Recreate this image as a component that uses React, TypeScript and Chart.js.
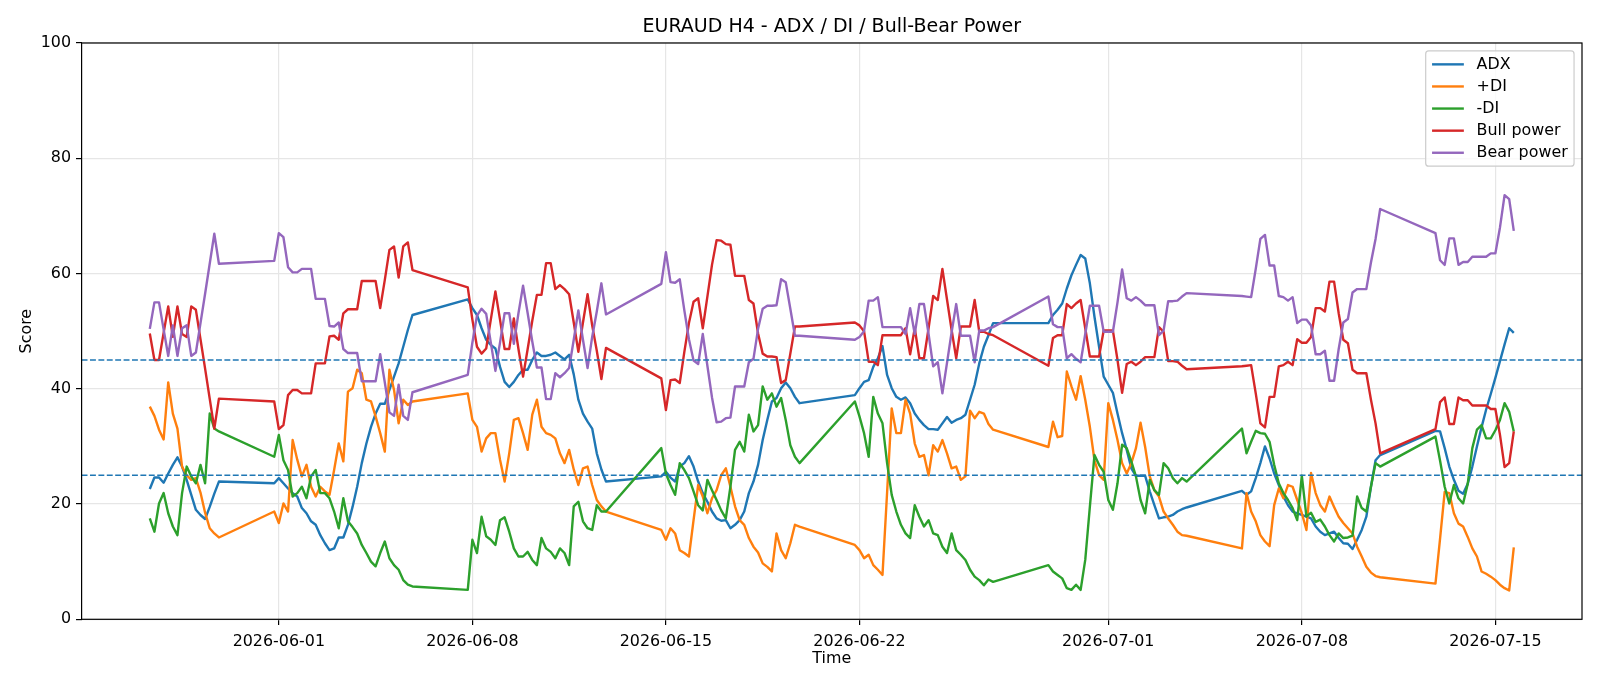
import React, { useEffect, useRef } from "react";
import { Chart, registerables } from "chart.js";

Chart.register(...registerables);

// H4 sessions: first bar (UTC) and bar count, weekends excluded
const sessionStarts = [
  "2026-05-27T08:00:00Z",
  "2026-05-31T20:00:00Z",
  "2026-06-07T20:00:00Z",
  "2026-06-14T20:00:00Z",
  "2026-06-21T20:00:00Z",
  "2026-06-28T20:00:00Z",
  "2026-07-05T20:00:00Z",
  "2026-07-12T20:00:00Z",
];
const sessionBars = [16, 31, 31, 31, 31, 31, 31, 18];

const tickDates = ["2026-06-01", "2026-06-08", "2026-06-15", "2026-06-22", "2026-07-01", "2026-07-08", "2026-07-15"];
const scoreTicks = [0, 20, 40, 60, 80, 100];
const levels = [45, 25];

const adx = [
  22.6, 24.6, 24.6, 23.7, 25.3, 26.8, 28.1, 26.5, 24.2, 21.6, 19.0, 18.1, 17.4, 19.5, 21.8, 23.9,
  23.6, 24.5, 23.6, 22.7, 21.9, 21.3, 19.3, 18.4, 17.0, 16.4, 14.6, 13.2, 12.0, 12.3, 14.2, 14.2, 16.4, 19.5, 23.0, 27.1, 30.5, 33.4, 35.7, 37.4, 37.4, 39.8, 42.1, 44.4, 47.3, 50.2, 52.8,
  55.5, 54.0, 52.8, 50.5, 48.5, 47.6, 47.0, 43.8, 41.2, 40.3, 41.2, 42.4, 43.3, 43.3, 45.0, 46.3, 45.7, 45.7, 45.9, 46.3, 45.7, 45.1, 45.9, 42.5, 38.1, 35.7, 34.3, 33.1, 28.8, 26.0, 23.9,
  24.8, 25.6, 24.6, 23.9, 26.5, 27.1, 28.3, 26.5, 23.9, 21.9, 20.4, 18.7, 17.5, 17.1, 17.2, 15.8, 16.4, 17.2, 18.7, 21.9, 23.9, 26.8, 31.1, 34.6, 37.8, 38.4, 40.1, 41.1, 40.1, 38.6, 37.5,
  38.9, 40.1, 41.2, 41.5, 43.8, 45.3, 47.4, 42.4, 40.1, 38.6, 38.1, 38.5, 37.5, 35.7, 34.6, 33.7, 33.0, 33.0, 32.9, 34.0, 35.1, 34.1, 34.6, 34.9, 35.5, 38.1, 40.7, 44.4, 47.3, 49.3, 51.4,
  51.4, 52.8, 53.7, 54.8, 57.4, 59.7, 61.5, 63.2, 62.6, 58.3, 52.5, 47.3, 42.1, 40.7, 39.3, 35.7, 32.3, 29.4, 26.2, 24.9, 24.9, 24.9, 22.2, 19.8, 17.5, 17.7, 17.8, 18.1, 18.7, 19.1, 19.4,
  22.3, 21.6, 22.2, 24.5, 27.1, 30.0, 27.9, 25.3, 23.3, 21.3, 19.8, 18.7, 18.4, 18.1, 17.8, 17.5, 16.1, 15.2, 14.6, 14.9, 15.2, 14.1, 13.2, 13.1, 12.2, 13.8, 15.5, 17.8, 23.0, 27.6, 28.5,
  32.7, 32.6, 29.7, 26.5, 24.2, 22.3, 21.8, 23.5, 26.5, 30.0, 33.3, 36.4, 39.1, 41.9, 44.8, 47.7, 50.5, 49.7,
];

const plusDi = [
  36.9, 35.3, 32.9, 31.2, 41.1, 35.7, 33.1, 26.5, 25.0, 24.2, 24.5, 22.0, 18.5, 15.8, 14.9, 14.2,
  18.7, 16.7, 20.1, 18.7, 31.1, 27.7, 24.8, 26.8, 23.0, 21.3, 23.0, 22.2, 21.6, 25.9, 30.5, 27.4, 39.5, 40.1, 43.3, 42.7, 38.1, 37.8, 35.2, 32.3, 29.1, 43.3, 39.8, 34.0, 38.1, 37.2, 37.8,
  39.2, 34.6, 33.4, 29.1, 31.4, 32.3, 32.3, 27.7, 23.9, 28.8, 34.6, 34.9, 32.3, 29.4, 35.5, 38.1, 33.4, 32.3, 32.0, 31.4, 28.8, 27.1, 29.4, 26.0, 23.3, 26.2, 26.5, 23.3, 20.7, 19.6, 18.7,
  15.5, 13.8, 15.8, 14.9, 12.0, 11.5, 10.9, 17.2, 23.3, 21.3, 18.4, 21.0, 22.4, 25.0, 26.2, 23.0, 19.6, 17.2, 16.4, 14.1, 12.6, 11.6, 9.7, 9.1, 8.3, 14.9, 12.0, 10.6, 13.2, 16.4, 16.1,
  12.9, 12.0, 10.6, 11.2, 9.4, 8.6, 7.7, 22.0, 36.6, 32.3, 32.3, 38.1, 35.7, 30.5, 28.2, 28.5, 25.0, 30.2, 29.1, 31.1, 28.8, 26.2, 26.5, 24.2, 24.8, 36.2, 34.9, 36.0, 35.7, 33.9, 32.9,
  29.9, 34.3, 31.6, 31.8, 43.0, 40.4, 38.1, 42.2, 38.1, 33.4, 27.6, 25.0, 24.2, 37.5, 34.6, 31.1, 27.1, 25.3, 27.1, 29.7, 34.1, 29.9, 24.8, 22.4, 21.3, 18.7, 17.5, 16.4, 15.2, 14.6, 14.5,
  12.3, 21.9, 18.7, 17.0, 14.6, 13.5, 12.7, 19.8, 22.7, 21.0, 23.3, 23.0, 20.7, 18.4, 15.5, 25.4, 21.9, 19.8, 18.7, 21.3, 19.5, 17.8, 16.7, 15.8, 14.9, 12.6, 10.9, 9.1, 8.1, 7.5, 7.3,
  6.2, 14.0, 22.1, 21.9, 18.4, 16.6, 16.1, 14.3, 12.3, 10.9, 8.3, 7.9, 7.4, 6.8, 6.0, 5.4, 5.0, 12.5,
];

const minusDi = [
  17.5, 15.2, 20.1, 21.9, 18.4, 16.1, 14.6, 21.9, 26.5, 24.8, 23.6, 26.8, 23.6, 35.7, 33.1, 32.6,
  28.2, 32.0, 27.6, 25.9, 21.3, 21.9, 23.0, 21.0, 24.8, 25.9, 21.9, 21.9, 21.0, 18.7, 15.8, 21.0, 17.0, 16.0, 14.9, 12.9, 11.5, 10.0, 9.2, 11.5, 13.5, 10.6, 9.4, 8.6, 6.8, 6.0, 5.7,
  5.1, 13.8, 11.5, 17.8, 14.4, 13.8, 12.9, 17.2, 17.7, 15.2, 12.3, 10.9, 10.9, 11.7, 10.3, 9.4, 14.1, 12.3, 11.7, 10.6, 12.3, 11.5, 9.4, 19.6, 20.4, 17.0, 15.8, 15.5, 19.8, 18.7, 18.7,
  29.7, 25.3, 23.3, 21.6, 27.1, 25.9, 24.5, 22.2, 19.8, 18.9, 24.2, 22.4, 20.7, 18.9, 17.5, 23.0, 29.4, 30.8, 29.1, 35.5, 32.6, 33.7, 40.4, 38.1, 39.2, 36.9, 38.4, 34.6, 30.2, 28.2, 27.1,
  37.8, 35.2, 32.3, 28.2, 38.6, 35.7, 34.0, 27.1, 21.6, 18.7, 16.4, 14.9, 14.1, 19.8, 17.8, 16.1, 17.2, 14.9, 14.6, 12.6, 11.5, 14.9, 12.0, 11.2, 10.3, 8.6, 7.4, 6.8, 5.9, 6.9, 6.5,
  9.4, 8.3, 7.7, 7.1, 5.4, 5.1, 6.0, 5.1, 10.3, 19.5, 28.5, 26.8, 25.6, 20.7, 19.0, 23.6, 30.3, 29.7, 27.4, 24.8, 20.7, 18.4, 24.2, 22.4, 21.6, 27.1, 26.2, 24.5, 23.6, 24.5, 23.9,
  33.1, 28.8, 30.8, 32.7, 32.3, 32.2, 30.8, 26.8, 23.6, 21.9, 20.7, 19.3, 17.2, 24.9, 17.8, 18.5, 16.9, 17.3, 16.1, 14.6, 13.5, 14.9, 14.1, 14.2, 14.5, 21.3, 19.3, 18.7, 23.0, 27.1, 26.5,
  31.7, 27.5, 23.0, 20.1, 23.3, 21.0, 20.1, 23.5, 29.7, 32.9, 33.7, 31.4, 31.4, 32.8, 34.6, 37.5, 36.0, 32.6,
];

const bullPower = [
  49.6, 45.0, 45.0, 49.7, 54.3, 49.0, 54.3, 49.5, 49.0, 54.3, 53.7, 48.6, 43.5, 38.3, 33.1, 38.3,
  37.8, 33.0, 33.7, 38.9, 39.8, 39.8, 39.2, 39.2, 39.2, 44.4, 44.4, 44.4, 49.1, 49.2, 48.5, 53.1, 53.8, 53.8, 53.8, 58.7, 58.7, 58.7, 58.7, 54.0, 58.9, 64.1, 64.7, 59.3, 64.7, 65.4, 60.6,
  57.6, 52.0, 47.3, 46.1, 47.0, 52.0, 56.9, 52.0, 46.9, 46.9, 52.2, 46.9, 42.1, 46.9, 51.8, 56.3, 56.3, 61.8, 61.8, 57.3, 58.0, 57.3, 56.4, 51.5, 46.4, 51.5, 56.4, 51.0, 46.6, 41.7, 47.1,
  41.8, 36.3, 41.5, 41.6, 41.0, 46.4, 51.4, 55.1, 55.7, 50.5, 56.0, 61.5, 65.8, 65.7, 65.1, 65.0, 59.6, 59.6, 59.6, 55.4, 54.8, 49.6, 46.1, 45.6, 45.6, 45.5, 41.0, 41.5, 46.1, 50.8, 50.8,
  51.5, 51.0, 50.0, 44.7, 44.7, 44.1, 49.3, 49.3, 49.3, 49.3, 49.3, 50.5, 46.0, 50.5, 45.3, 45.3, 50.5, 56.1, 55.4, 60.8, 55.5, 50.2, 45.3, 50.8, 50.8, 50.8, 55.4, 49.9, 49.9, 49.5, 49.3,
  44.0, 48.8, 49.3, 49.3, 54.7, 54.0, 54.8, 55.4, 50.5, 45.6, 45.6, 45.6, 50.1, 50.1, 50.1, 45.0, 39.3, 44.3, 44.7, 44.1, 44.7, 45.5, 45.5, 45.5, 50.7, 49.9, 44.8, 44.8, 44.7, 44.0, 43.4,
  43.9, 44.0, 44.1, 39.2, 34.0, 33.3, 38.6, 38.6, 43.9, 44.1, 44.7, 44.1, 48.6, 48.0, 48.0, 49.0, 54.0, 54.0, 53.4, 58.6, 58.6, 53.1, 48.5, 47.9, 43.3, 42.7, 42.7, 42.7, 38.1, 34.0, 28.8,
  33.0, 37.7, 38.5, 33.9, 33.9, 38.5, 38.0, 38.0, 37.1, 37.1, 37.1, 37.1, 36.5, 36.5, 32.0, 26.4, 27.1, 32.6,
];

const bearPower = [
  50.4, 55.0, 55.0, 50.3, 45.7, 51.0, 45.7, 50.5, 51.0, 45.7, 46.3, 51.4, 56.5, 61.7, 66.9, 61.7,
  62.2, 67.0, 66.3, 61.1, 60.2, 60.2, 60.8, 60.8, 60.8, 55.6, 55.6, 55.6, 50.9, 50.8, 51.5, 46.9, 46.2, 46.2, 46.2, 41.3, 41.3, 41.3, 41.3, 46.0, 41.1, 35.9, 35.3, 40.7, 35.3, 34.6, 39.4,
  42.4, 48.0, 52.7, 53.9, 53.0, 48.0, 43.1, 48.0, 53.1, 53.1, 47.8, 53.1, 57.9, 53.1, 48.2, 43.7, 43.7, 38.2, 38.2, 42.7, 42.0, 42.7, 43.6, 48.5, 53.6, 48.5, 43.6, 49.0, 53.4, 58.3, 52.9,
  58.2, 63.7, 58.5, 58.4, 59.0, 53.6, 48.6, 44.9, 44.3, 49.5, 44.0, 38.5, 34.2, 34.3, 34.9, 35.0, 40.4, 40.4, 40.4, 44.6, 45.2, 50.4, 53.9, 54.4, 54.4, 54.5, 59.0, 58.5, 53.9, 49.2, 49.2,
  48.5, 49.0, 50.0, 55.3, 55.3, 55.9, 50.7, 50.7, 50.7, 50.7, 50.7, 49.5, 54.0, 49.5, 54.7, 54.7, 49.5, 43.9, 44.6, 39.2, 44.5, 49.8, 54.7, 49.2, 49.2, 49.2, 44.6, 50.1, 50.1, 50.5, 50.7,
  56.0, 51.2, 50.7, 50.7, 45.3, 46.0, 45.2, 44.6, 49.5, 54.4, 54.4, 54.4, 49.9, 49.9, 49.9, 55.0, 60.7, 55.7, 55.3, 55.9, 55.3, 54.5, 54.5, 54.5, 49.3, 50.1, 55.2, 55.2, 55.3, 56.0, 56.6,
  56.1, 56.0, 55.9, 60.8, 66.0, 66.7, 61.4, 61.4, 56.1, 55.9, 55.3, 55.9, 51.4, 52.0, 52.0, 51.0, 46.0, 46.0, 46.6, 41.4, 41.4, 46.9, 51.5, 52.1, 56.7, 57.3, 57.3, 57.3, 61.9, 66.0, 71.2,
  67.0, 62.3, 61.5, 66.1, 66.1, 61.5, 62.0, 62.0, 62.9, 62.9, 62.9, 62.9, 63.5, 63.5, 68.0, 73.6, 72.9, 67.4,
];

const DAY_MS = 86400000;
const BAR_DAYS = 4 / 24;
const FONT = "'DejaVu Sans', sans-serif";

// bar times in days since epoch (UTC)
function barTimes(): number[] {
  const out: number[] = [];
  sessionStarts.forEach((start, s) => {
    const t0 = Date.parse(start) / DAY_MS;
    for (let i = 0; i < sessionBars[s]; i++) out.push(t0 + i * BAR_DAYS);
  });
  return out;
}

const dayLabel = (v: number) => new Date(Math.round(v * DAY_MS)).toISOString().slice(0, 10);

// horizontal threshold lines at 25 and 45
const levelLines = {
  id: "levelLines",
  afterDatasetsDraw(chart: any) {
    const { ctx, chartArea: a, scales } = chart;
    ctx.save();
    ctx.beginPath();
    ctx.rect(a.left, a.top, a.right - a.left, a.bottom - a.top);
    ctx.clip();
    ctx.strokeStyle = "#1f77b4";
    ctx.lineWidth = 1.4;
    ctx.setLineDash([5.9, 2.5]);
    for (const v of levels) {
      const py = scales.y.getPixelForValue(v);
      ctx.beginPath();
      ctx.moveTo(a.left, py);
      ctx.lineTo(a.right, py);
      ctx.stroke();
    }
    ctx.restore();
  },
};

// box around the plotting area
const frame = {
  id: "frame",
  afterDatasetsDraw(chart: any) {
    const { ctx, chartArea: a } = chart;
    ctx.save();
    ctx.strokeStyle = "#000";
    ctx.lineWidth = 1.2;
    ctx.strokeRect(a.left, a.top, a.right - a.left, a.bottom - a.top);
    ctx.restore();
  },
};

// legend box in the upper right corner of the plot
const cornerLegend = {
  id: "cornerLegend",
  afterDraw(chart: any) {
    const { ctx, chartArea: a } = chart;
    const fs = 15.9;
    const items = chart.data.datasets;
    ctx.save();
    ctx.font = `${fs}px ${FONT}`;
    const textW = Math.max(...items.map((d: any) => ctx.measureText(d.label).width));
    const pad = 0.4 * fs;
    const handle = 2 * fs;
    const gap = 0.8 * fs;
    const rowH = 22.1;
    const w = pad + handle + gap + textW + pad;
    const h = 2 * pad + items.length * rowH - 8;
    const right = a.right - 0.5 * fs;
    const top = a.top + 0.5 * fs;
    const left = right - w;
    ctx.beginPath();
    ctx.roundRect(left, top, w, h, 3);
    ctx.fillStyle = "rgba(255,255,255,0.8)";
    ctx.fill();
    ctx.strokeStyle = "#cccccc";
    ctx.lineWidth = 1.2;
    ctx.stroke();
    const firstRow = top + (h - (items.length - 1) * rowH) / 2;
    items.forEach((d: any, i: number) => {
      const cy = firstRow + i * rowH;
      ctx.beginPath();
      ctx.strokeStyle = d.borderColor;
      ctx.lineWidth = 2.4;
      ctx.moveTo(left + pad, cy);
      ctx.lineTo(left + pad + handle, cy);
      ctx.stroke();
      ctx.fillStyle = "#000";
      ctx.textBaseline = "middle";
      ctx.textAlign = "left";
      ctx.fillText(d.label, left + pad + handle + gap, cy + 0.5);
    });
    ctx.restore();
  },
};

export default function App() {
  const ref = useRef<HTMLCanvasElement>(null);

  useEffect(() => {
    const canvas = ref.current;
    if (!canvas) return;
    Chart.defaults.font.family = FONT;
    Chart.defaults.color = "#000";

    const times = barTimes();
    const series = [
      { label: "ADX", values: adx, color: "#1f77b4" },
      { label: "+DI", values: plusDi, color: "#ff7f0e" },
      { label: "-DI", values: minusDi, color: "#2ca02c" },
      { label: "Bull power", values: bullPower, color: "#d62728" },
      { label: "Bear power", values: bearPower, color: "#9467bd" },
    ];
    const datasets = series.map((s, i) => ({
      label: s.label,
      data: s.values.map((v, j) => ({ x: times[j], y: v })),
      borderColor: s.color,
      backgroundColor: s.color,
      borderWidth: 2.4,
      borderJoinStyle: "round" as const,
      pointRadius: 0,
      tension: 0,
      fill: false,
      order: series.length - i,
    }));

    const first = times[0];
    const last = times[times.length - 1];
    const margin = (last - first) * 0.05;
    const tickValues = tickDates.map((d) => Date.parse(d + "T00:00:00Z") / DAY_MS);

    const chart = new Chart(canvas, {
      type: "line",
      data: { datasets },
      options: {
        animation: false,
        responsive: false,
        devicePixelRatio: 1,
        parsing: false,
        layout: { padding: { left: 0, right: 18, top: 0, bottom: 0 } },
        plugins: {
          legend: { display: false },
          tooltip: { enabled: false },
          title: {
            display: true,
            text: "EURAUD H4 - ADX / DI / Bull-Bear Power",
            font: { size: 19, weight: "normal", family: FONT },
            color: "#000",
            padding: { top: 15.6, bottom: 4.6 },
            fullSize: false,
          },
        },
        scales: {
          x: {
            type: "linear",
            min: first - margin,
            max: last + margin,
            afterBuildTicks: (scale: any) => {
              scale.ticks = tickValues.map((value) => ({ value }));
            },
            afterFit: (scale: any) => {
              scale.height = 66.7;
            },
            ticks: {
              autoSkip: false,
              maxRotation: 0,
              minRotation: 0,
              padding: 7,
              color: "#000",
              font: { size: 15.9, family: FONT },
              callback: (v: any) => dayLabel(Number(v)),
            },
            grid: {
              color: "#e6e6e6",
              lineWidth: 1.2,
              drawTicks: true,
              tickLength: 5.6,
              tickColor: "#000",
              tickWidth: 1.2,
            },
            border: { display: false },
            title: {
              display: true,
              text: "Time",
              color: "#000",
              font: { size: 15.9, family: FONT },
              padding: { top: 0, bottom: 17.5 },
            },
          },
          y: {
            min: 0,
            max: 100,
            afterBuildTicks: (scale: any) => {
              scale.ticks = scoreTicks.map((value) => ({ value }));
            },
            afterFit: (scale: any) => {
              scale.width = 81.6;
            },
            ticks: {
              padding: 5,
              color: "#000",
              font: { size: 15.9, family: FONT },
            },
            grid: {
              color: "#e6e6e6",
              lineWidth: 1.2,
              drawTicks: true,
              tickLength: 5.6,
              tickColor: "#000",
              tickWidth: 1.2,
            },
            border: { display: false },
            title: {
              display: true,
              text: "Score",
              color: "#000",
              font: { size: 15.9, family: FONT },
              padding: { top: 17, bottom: 0 },
            },
          },
        },
      },
      plugins: [levelLines, frame, cornerLegend],
    } as any);

    return () => chart.destroy();
  }, []);

  return (
    <div style={{ position: "absolute", left: 0, top: 0, width: 1600, height: 686, background: "#fff" }}>
      <canvas ref={ref} width={1600} height={686} style={{ display: "block" }} />
    </div>
  );
}
